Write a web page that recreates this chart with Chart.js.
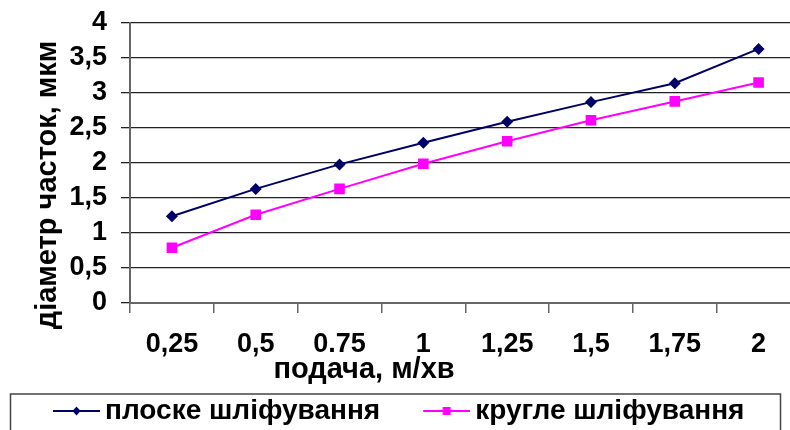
<!DOCTYPE html>
<html>
<head>
<meta charset="utf-8">
<script src="https://cdn.jsdelivr.net/npm/chart.js@4/dist/chart.umd.min.js"></script>
<style>
  html, body { margin: 0; padding: 0; background: #fff; overflow: hidden; }
  #wrap { position: relative; width: 808px; height: 435px; }
</style>
</head>
<body>
<div id="wrap"><canvas id="chart_particleSize"></canvas></div>
<script>
// feed rate categories (note the reference mixes "," and "." separators)
const categories = ['0,25', '0,5', '0.75', '1', '1,25', '1,5', '1,75', '2'];
const flatGrinding = [1.24, 1.63, 1.98, 2.29, 2.59, 2.87, 3.14, 3.63];
const roundGrinding = [0.79, 1.26, 1.63, 1.99, 2.31, 2.61, 2.88, 3.15];
const yTickLabels = ['0', '0,5', '1', '1,5', '2', '2,5', '3', '3,5', '4'];
const seriesNames = ['плоске шліфування', 'кругле шліфування'];
const xTitle = 'подача, м/хв';
const yTitle = 'діаметр часток, мкм';

const NAVY = '#000066';
const MAGENTA = '#ff00ff';
const FONT = '"Liberation Sans", Arial, sans-serif';

Chart.defaults.font.family = FONT;
Chart.defaults.font.weight = 'bold';
Chart.defaults.font.size = 27;
Chart.defaults.color = '#000';

const LEGEND_PAD = 10;
const LEGEND_FONT = 28;
const LEGEND_BOX = 71;

// line + marker icon for the legend, like Excel draws it.
// The canvas is wider than the visible sample so the items get spaced out.
function legendIcon(color, shape) {
    const c = document.createElement('canvas');
    c.width = LEGEND_BOX + 18;
    c.height = 16;
    const g = c.getContext('2d');
    const x0 = c.width - 47;
    const mid = x0 + 23.5;
    g.strokeStyle = color;
    g.lineWidth = 2;
    g.beginPath();
    g.moveTo(x0, 8);
    g.lineTo(c.width, 8);
    g.stroke();
    g.fillStyle = color;
    if (shape === 'diamond') {
        g.beginPath();
        g.moveTo(mid, 3.5);
        g.lineTo(mid + 4, 8);
        g.lineTo(mid, 12.5);
        g.lineTo(mid - 4, 8);
        g.closePath();
        g.fill();
    } else {
        g.fillRect(mid - 4, 4, 8, 8);
    }
    return c;
}
const icons = [legendIcon(NAVY, 'diamond'), legendIcon(MAGENTA, 'square')];

const chart_particleSize = new Chart(document.getElementById('chart_particleSize'), {
    type: 'line',
    data: {
        labels: categories,
        datasets: [
            {
                label: seriesNames[0],
                data: flatGrinding,
                borderColor: NAVY,
                backgroundColor: NAVY,
                borderWidth: 2,
                pointStyle: 'rectRot',
                pointRadius: 6,
                pointBorderWidth: 0,
                tension: 0
            },
            {
                label: seriesNames[1],
                data: roundGrinding,
                borderColor: MAGENTA,
                backgroundColor: MAGENTA,
                borderWidth: 2,
                pointStyle: 'rect',
                pointRadius: 7.5,
                pointBorderWidth: 0,
                tension: 0
            }
        ]
    },
    options: {
        animation: false,
        responsive: true,
        maintainAspectRatio: false,
        layout: {
            padding: { top: 23, right: 2, left: 10, bottom: 0 }
        },
        plugins: {
            tooltip: { enabled: false },
            legend: {
                position: 'bottom',
                align: 'start',
                labels: {
                    usePointStyle: true,
                    pointStyleWidth: LEGEND_BOX,
                    padding: LEGEND_PAD,
                    font: { size: LEGEND_FONT, weight: 'bold' },
                    generateLabels: function(chart) {
                        const items = Chart.defaults.plugins.legend.labels.generateLabels(chart);
                        items.forEach(function(item, i) { item.pointStyle = icons[i]; });
                        return items;
                    }
                }
            }
        },
        scales: {
            x: {
                type: 'category',
                offset: true,
                afterFit: function(scale) { scale.height = 84; },
                grid: {
                    offset: true,
                    drawOnChartArea: false,
                    drawTicks: true,
                    tickLength: 10,
                    color: '#666',
                    lineWidth: 1.5
                },
                border: { color: '#666', width: 2 },
                ticks: {
                    padding: 15,
                    maxRotation: 0,
                    autoSkip: false,
                    font: { size: 27, weight: 'bold' }
                }
            },
            y: {
                min: 0,
                max: 4,
                afterFit: function(scale) { scale.width = 120; },
                grid: {
                    color: '#222',
                    lineWidth: 1.3,
                    tickLength: 9
                },
                border: { color: '#666', width: 2 },
                ticks: {
                    stepSize: 0.5,
                    padding: 14,
                    autoSkip: false,
                    font: { size: 27, weight: 'bold', lineHeight: 0.6 },
                    callback: function(value, index) {
                        return yTickLabels[index];
                    }
                }
            }
        }
    },
    plugins: [{
        id: 'excelDecor',
        afterDraw: (chart) => {
            const ctx = chart.ctx;
            const area = chart.chartArea;
            ctx.save();
            ctx.fillStyle = '#000';
            ctx.font = 'bold 29px ' + FONT;
            ctx.textAlign = 'center';
            ctx.textBaseline = 'middle';
            // x axis title, placed off-centre as in the reference
            ctx.fillText(xTitle, area.left + 234, area.bottom + 67);
            // y axis title
            ctx.translate(area.left - 82, area.top + 162);
            ctx.rotate(-Math.PI / 2);
            ctx.fillText(yTitle, 0, 0);
            ctx.restore();
            // legend frame
            const lg = chart.legend;
            const textMid = lg.top + LEGEND_PAD + LEGEND_FONT / 2;
            ctx.save();
            ctx.strokeStyle = '#444';
            ctx.lineWidth = 1.5;
            ctx.strokeRect(10.5, textMid - 17, 770, 60);
            ctx.restore();
        }
    }]
});
</script>
</body>
</html>
